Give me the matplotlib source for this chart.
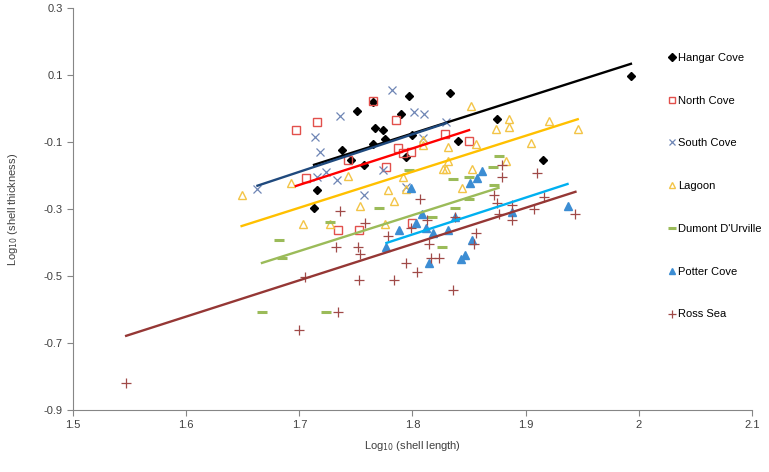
import numpy as np
import matplotlib
matplotlib.use('Agg')
import matplotlib.pyplot as plt

plt.rcParams['font.family'] = ['Liberation Sans', 'DejaVu Sans']
plt.rcParams['axes.unicode_minus'] = False

# data: log10 shell length / log10 shell thickness, per site
hangar_x = [1.713, 1.716, 1.738, 1.746, 1.751, 1.757, 1.765, 1.765, 1.767, 1.774,
            1.776, 1.790, 1.794, 1.797, 1.800, 1.833, 1.840, 1.875, 1.915, 1.993]
hangar_y = [-0.297, -0.243, -0.124, -0.154, -0.007, -0.169, 0.019, -0.106, -0.058, -0.064,
            -0.091, -0.016, -0.145, 0.037, -0.079, 0.046, -0.097, -0.031, -0.154, 0.097]

north_x = [1.697, 1.716, 1.765, 1.743, 1.706, 1.785, 1.787, 1.792, 1.799, 1.777,
           1.829, 1.850, 1.734, 1.753, 1.800]
north_y = [-0.064, -0.040, 0.022, -0.154, -0.207, -0.034, -0.118, -0.133, -0.130, -0.175,
           -0.076, -0.097, -0.363, -0.363, -0.342]

south_x = [1.663, 1.714, 1.718, 1.716, 1.724, 1.733, 1.736, 1.757, 1.774, 1.782,
           1.794, 1.801, 1.810, 1.809, 1.830]
south_y = [-0.240, -0.085, -0.130, -0.204, -0.190, -0.213, -0.022, -0.258, -0.184, 0.055,
           -0.234, -0.010, -0.016, -0.088, -0.040]

lagoon_x = [1.649, 1.693, 1.703, 1.727, 1.743, 1.754, 1.776, 1.778, 1.784, 1.792,
            1.794, 1.809, 1.809, 1.827, 1.830, 1.831, 1.831, 1.844, 1.852, 1.853,
            1.856, 1.874, 1.883, 1.885, 1.885, 1.905, 1.921, 1.946]
lagoon_y = [-0.258, -0.222, -0.345, -0.345, -0.201, -0.291, -0.345, -0.243, -0.276, -0.204,
            -0.240, -0.094, -0.109, -0.181, -0.181, -0.115, -0.157, -0.237, 0.007, -0.181,
            -0.106, -0.061, -0.157, -0.031, -0.055, -0.103, -0.037, -0.061]

dumont_x = [1.667, 1.682, 1.685, 1.724, 1.727, 1.770, 1.797, 1.817, 1.826, 1.836,
            1.838, 1.850, 1.850, 1.871, 1.872, 1.876]
dumont_y = [-0.607, -0.393, -0.446, -0.607, -0.339, -0.297, -0.184, -0.324, -0.413, -0.210,
            -0.297, -0.204, -0.270, -0.175, -0.228, -0.142]

potter_x = [1.777, 1.788, 1.799, 1.803, 1.808, 1.812, 1.815, 1.818, 1.831, 1.838,
            1.843, 1.846, 1.851, 1.853, 1.857, 1.861, 1.888, 1.937]
potter_y = [-0.413, -0.363, -0.237, -0.342, -0.315, -0.357, -0.461, -0.372, -0.363, -0.324,
            -0.449, -0.437, -0.222, -0.393, -0.207, -0.187, -0.309, -0.291]

ross_x = [1.547, 1.700, 1.705, 1.732, 1.734, 1.736, 1.752, 1.753, 1.754, 1.758,
          1.778, 1.784, 1.794, 1.799, 1.804, 1.807, 1.813, 1.815, 1.816, 1.823,
          1.836, 1.838, 1.854, 1.856, 1.872, 1.875, 1.876, 1.879, 1.879, 1.888,
          1.888, 1.907, 1.910, 1.916, 1.944]
ross_y = [-0.820, -0.661, -0.503, -0.413, -0.607, -0.306, -0.413, -0.512, -0.434, -0.342,
          -0.381, -0.512, -0.461, -0.357, -0.488, -0.270, -0.333, -0.404, -0.446, -0.446,
          -0.542, -0.324, -0.404, -0.372, -0.258, -0.282, -0.315, -0.169, -0.204, -0.288,
          -0.333, -0.300, -0.193, -0.264, -0.315]

# linear trendlines (slope, intercept)
slopes = [1.077, 1.09, 1.12, 1.074, 1.072, 1.10, 1.083]
intercepts = [-2.013, -2.081, -2.093, -2.122, -2.248, -2.356, -2.354]

labels = ['Hangar Cove', 'North Cove', 'South Cove', 'Lagoon',
          "Dumont D'Urville", 'Potter Cove', 'Ross Sea']
xs = [hangar_x, north_x, south_x, lagoon_x, dumont_x, potter_x, ross_x]
ys = [hangar_y, north_y, south_y, lagoon_y, dumont_y, potter_y, ross_y]

markers = ['D', 's', 'x', '^', '_', '^', '+']
msizes = [4.5, 5.5, 6, 6, 6.5, 6, 6.5]
mcolors = ['black', '#E2504C', '#6F86B5', '#F3C447', '#9BBB59', '#3C8DD3', '#A04A48']
filled = [True, False, True, False, True, True, True]
lcolors = ['black', '#FF0000', '#1F497D', '#FFC000', '#9BBB59', '#00B0F0', '#953735']

fig = plt.figure(figsize=(7.69, 4.72), dpi=100)
ax = fig.add_axes([0.0949, 0.1314, 0.8830, 0.8516])

for i in range(7):
    if markers[i] in ('x', '+'):
        ax.plot(xs[i], ys[i], ls='none', marker=markers[i], ms=msizes[i],
                color=mcolors[i], mew=0.9, label=labels[i])
    elif markers[i] == '_':
        ax.plot(xs[i], ys[i], ls='none', marker='_', ms=msizes[i],
                color=mcolors[i], mew=2.2, label=labels[i])
    elif filled[i]:
        ax.plot(xs[i], ys[i], ls='none', marker=markers[i], ms=msizes[i],
                color=mcolors[i], mec=mcolors[i], label=labels[i])
    else:
        ax.plot(xs[i], ys[i], ls='none', marker=markers[i], ms=msizes[i],
                mfc='none', mec=mcolors[i], mew=1.0, label=labels[i])

for i in range(7):
    xx = np.array([min(xs[i]), max(xs[i])])
    ax.plot(xx, slopes[i] * xx + intercepts[i], color=lcolors[i], lw=1.7, zorder=5)

ax.set_xlim(1.5, 2.1)
ax.set_ylim(-0.9, 0.3)
ax.set_xticks([1.5, 1.6, 1.7, 1.8, 1.9, 2.0, 2.1])
ax.set_xticklabels(['1.5', '1.6', '1.7', '1.8', '1.9', '2', '2.1'])
ax.set_yticks([0.3, 0.1, -0.1, -0.3, -0.5, -0.7, -0.9])
ax.set_yticklabels(['0.3', '0.1', '-0.1', '-0.3', '-0.5', '-0.7', '-0.9'])

for s in ['top', 'right']:
    ax.spines[s].set_visible(False)
for s in ['left', 'bottom']:
    ax.spines[s].set_color('#868686')
    ax.spines[s].set_linewidth(0.8)
ax.tick_params(colors='#868686', labelcolor='#404040', labelsize=8, length=4, width=0.8)

ax.set_xlabel('Log$_{10}$ (shell length)', fontsize=8, color='#404040', labelpad=6)
ax.set_ylabel('Log$_{10}$ (shell thickness)', fontsize=8, color='#404040', labelpad=17)

leg = ax.legend(loc='upper left', bbox_to_anchor=(0.862, 0.900), bbox_transform=fig.transFigure,
                frameon=False, fontsize=8, labelspacing=2.95, handlelength=0.6,
                handletextpad=0.3, borderpad=0, numpoints=1, markerscale=0.8)

fig.savefig('out.png', dpi=100)
